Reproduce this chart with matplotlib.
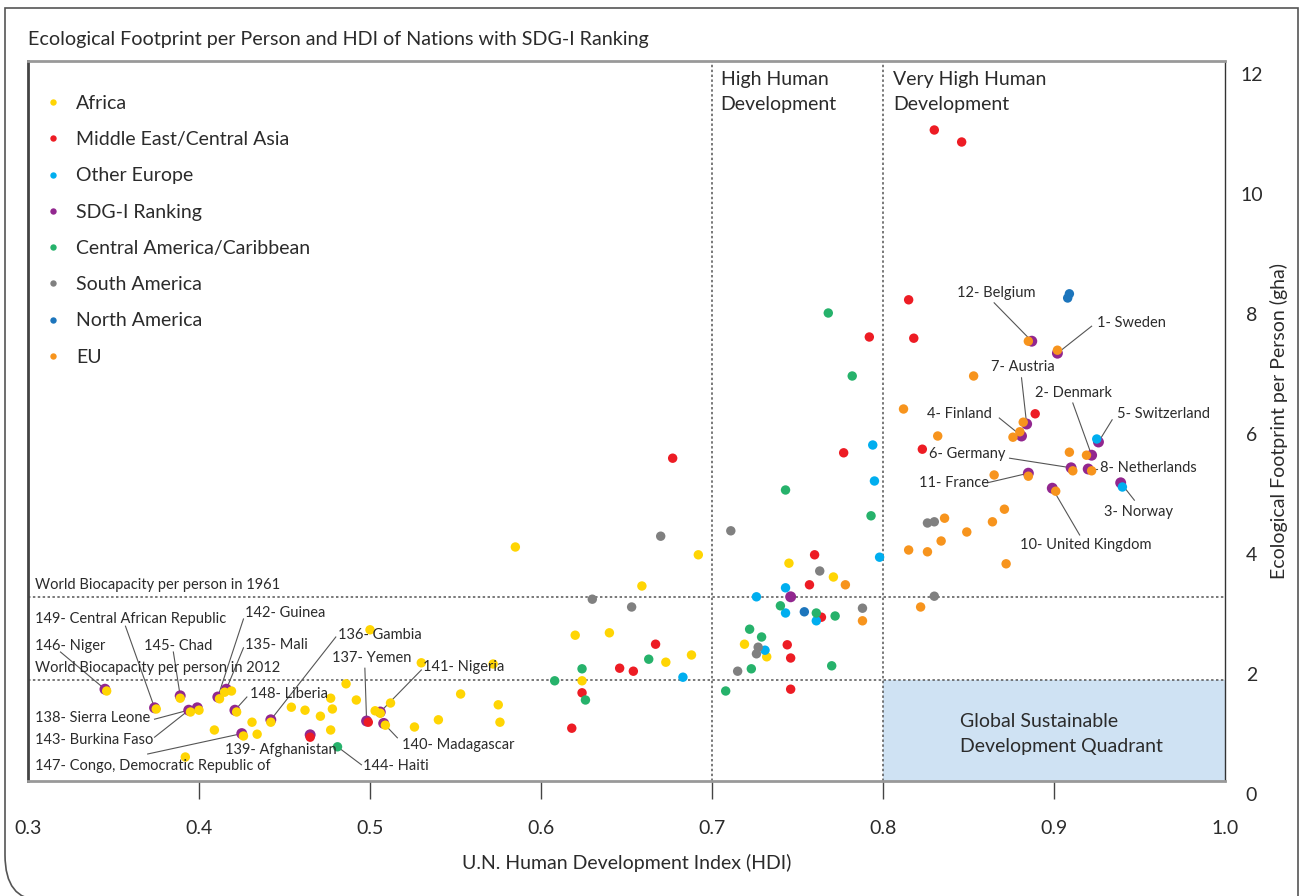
import matplotlib
matplotlib.use('Agg')
import matplotlib.pyplot as plt
from matplotlib.lines import Line2D
from matplotlib.patches import Rectangle, PathPatch
from matplotlib.path import Path
import matplotlib.transforms as mtransforms

plt.rcParams['font.family'] = ['Lato', 'DejaVu Sans']
TXT = '#2b2b2b'

# ---------------- data (HDI, Ecological Footprint gha/person) ----------------
regions = ['Africa', 'Middle East/Central Asia', 'Other Europe', 'SDG-I Ranking',
           'Central America/Caribbean', 'South America', 'North America', 'EU']
region_colors = ['#FFD503', '#ED1C24', '#00AEEF', '#92278F',
                 '#26B26B', '#808080', '#1C75BC', '#F7941D']

africa_hdi = [0.419, 0.431, 0.434, 0.409, 0.392, 0.454, 0.462, 0.471, 0.477, 0.477,
              0.478, 0.486, 0.492, 0.500, 0.503, 0.512, 0.526, 0.530, 0.540, 0.553,
              0.572, 0.575, 0.576, 0.585, 0.620, 0.624, 0.640, 0.659, 0.673, 0.688,
              0.692, 0.719, 0.732, 0.745, 0.771,
              0.346, 0.375, 0.389, 0.395, 0.400, 0.412, 0.415, 0.422, 0.426, 0.442,
              0.506, 0.509]
africa_ef = [1.50, 0.98, 0.78, 0.85, 0.40, 1.23, 1.18, 1.08, 0.85, 1.38,
             1.20, 1.62, 1.35, 2.52, 1.17, 1.30, 0.90, 1.97, 1.02, 1.45,
             1.95, 1.27, 0.98, 3.90, 2.43, 1.67, 2.47, 3.25, 1.98, 2.10,
             3.77, 2.28, 2.07, 3.63, 3.40,
             1.50, 1.20, 1.38, 1.15, 1.18, 1.37, 1.48, 1.15, 0.75, 0.98,
             1.13, 0.93]

mideast_hdi = [0.830, 0.846, 0.815, 0.818, 0.792, 0.889, 0.823, 0.777, 0.677, 0.760,
               0.757, 0.764, 0.744, 0.746, 0.746, 0.667, 0.646, 0.654, 0.624, 0.618,
               0.465, 0.499]
mideast_ef = [10.85, 10.65, 8.02, 7.38, 7.40, 6.12, 5.53, 5.47, 5.38, 3.77,
              3.27, 2.73, 2.27, 2.05, 1.53, 2.28, 1.88, 1.83, 1.47, 0.88,
              0.73, 0.98]

other_europe_hdi = [0.794, 0.795, 0.798, 0.743, 0.726, 0.743, 0.761, 0.731, 0.683,
                    0.925, 0.940]
other_europe_ef = [5.60, 5.00, 3.73, 3.22, 3.07, 2.80, 2.67, 2.18, 1.73,
                   5.70, 4.90]

central_am_hdi = [0.768, 0.782, 0.743, 0.793, 0.740, 0.761, 0.772, 0.722, 0.729, 0.723,
                  0.770, 0.708, 0.663, 0.624, 0.608, 0.626, 0.481]
central_am_ef = [7.80, 6.75, 4.85, 4.42, 2.92, 2.80, 2.75, 2.53, 2.40, 1.87,
                 1.92, 1.50, 2.03, 1.87, 1.67, 1.35, 0.57]

south_am_hdi = [0.630, 0.653, 0.670, 0.711, 0.763, 0.788, 0.727, 0.726, 0.715, 0.826,
                0.830, 0.830]
south_am_ef = [3.03, 2.90, 4.08, 4.17, 3.50, 2.88, 2.23, 2.12, 1.83, 4.30,
               4.32, 3.08]

north_am_hdi = [0.908, 0.909, 0.754]
north_am_ef = [8.05, 8.12, 2.82]

eu_hdi = [0.778, 0.788, 0.853, 0.812, 0.876, 0.832, 0.909, 0.865, 0.871, 0.836,
          0.864, 0.849, 0.834, 0.815, 0.826, 0.872, 0.822,
          0.902, 0.885, 0.882, 0.880, 0.919, 0.911, 0.922, 0.885, 0.901]
eu_ef = [3.27, 2.67, 6.75, 6.20, 5.73, 5.75, 5.48, 5.10, 4.53, 4.38,
         4.32, 4.15, 4.00, 3.85, 3.82, 3.62, 2.90,
         7.18, 7.33, 5.98, 5.82, 5.43, 5.17, 5.17, 5.08, 4.83]

# SDG-I ranked countries (purple markers)
sdg_names = ['146- Niger', '149- Central African Republic', '145- Chad', '143- Burkina Faso',
             '138- Sierra Leone', '142- Guinea', '135- Mali', '148- Liberia',
             '147- Congo, Democratic Republic of', '136- Gambia', '139- Afghanistan',
             '137- Yemen', '141- Nigeria', '140- Madagascar',
             '1- Sweden', '2- Denmark', '3- Norway', '4- Finland', '5- Switzerland',
             '6- Germany', '7- Austria', '8- Netherlands', '10- United Kingdom',
             '11- France', '12- Belgium', '']
sdg_hdi = [0.345, 0.374, 0.389, 0.394, 0.399, 0.411, 0.416, 0.421, 0.425, 0.442,
           0.465, 0.498, 0.506, 0.508,
           0.902, 0.922, 0.939, 0.881, 0.926, 0.910, 0.884, 0.920, 0.899, 0.885,
           0.887, 0.746]
sdg_ef = [1.53, 1.22, 1.42, 1.18, 1.22, 1.40, 1.53, 1.18, 0.79, 1.02,
          0.77, 1.00, 1.15, 0.96,
          7.13, 5.43, 4.97, 5.75, 5.65, 5.22, 5.95, 5.20, 4.88, 5.13,
          7.33, 3.07]

haiti_name = '144- Haiti'
haiti_hdi, haiti_ef = 0.481, 0.57

biocap_1961 = 3.07
biocap_2012 = 1.68
hdi_high = 0.7
hdi_very_high = 0.8

x_ticks = [0.3, 0.4, 0.5, 0.6, 0.7, 0.8, 0.9, 1.0]
x_tick_labels = ['0.3', '0.4', '0.5', '0.6', '0.7', '0.8', '0.9', '1.0']
y_ticks = [0, 2, 4, 6, 8, 10, 12]
y_tick_labels = ['0', '2', '4', '6', '8', '10', '12']

# ---------------- layout of annotation labels: text pos, line start ----------------
label_layout = {
    '149- Central African Republic': (0.304, 2.70, 0.357, 2.58),
    '146- Niger': (0.304, 2.25, 0.319, 2.15),
    '145- Chad': (0.368, 2.25, 0.385, 2.15),
    '142- Guinea': (0.427, 2.80, 0.426, 2.70),
    '135- Mali': (0.427, 2.27, 0.426, 2.22),
    '148- Liberia': (0.430, 1.45, 0.428, 1.40),
    '138- Sierra Leone': (0.304, 1.05, 0.374, 1.03),
    '143- Burkina Faso': (0.304, 0.68, 0.374, 0.73),
    '147- Congo, Democratic Republic of': (0.304, 0.25, 0.370, 0.45),
    '139- Afghanistan': (0.415, 0.52, None, None),
    '136- Gambia': (0.481, 2.43, 0.480, 2.40),
    '137- Yemen': (0.478, 2.05, 0.497, 1.88),
    '141- Nigeria': (0.531, 1.90, 0.530, 1.85),
    '140- Madagascar': (0.519, 0.60, 0.516, 0.72),
    '144- Haiti': (0.496, 0.25, 0.495, 0.27),
    '12- Belgium': (0.843, 8.13, 0.865, 7.97),
    '1- Sweden': (0.925, 7.63, 0.922, 7.58),
    '7- Austria': (0.863, 6.90, 0.881, 6.72),
    '2- Denmark': (0.889, 6.47, 0.911, 6.30),
    '4- Finland': (0.826, 6.12, 0.868, 6.05),
    '5- Switzerland': (0.937, 6.12, 0.934, 6.02),
    '6- Germany': (0.827, 5.45, 0.874, 5.38),
    '8- Netherlands': (0.927, 5.22, 0.925, 5.20),
    '11- France': (0.821, 4.97, 0.861, 4.97),
    '3- Norway': (0.929, 4.48, 0.947, 4.68),
    '10- United Kingdom': (0.880, 3.93, 0.915, 4.10),
}

# ---------------- figure ----------------
W, H = 1304, 896
fig = plt.figure(figsize=(W / 100, H / 100), dpi=100)
fig.patch.set_facecolor('white')

# outer frame with rounded bottom-left corner
fx = lambda px: px / W
fy = lambda py: (H - py) / H
verts = [(fx(40), fy(900)), (fx(5), fy(900)), (fx(5), fy(855)),
         (fx(5), fy(8)), (fx(1298), fy(8)), (fx(1298), fy(900))]
codes = [Path.MOVETO, Path.CURVE3, Path.CURVE3, Path.LINETO, Path.LINETO, Path.LINETO]
fig.add_artist(PathPatch(Path(verts, codes), transform=fig.transFigure,
                         facecolor='none', edgecolor='#555555', lw=1.2))

fig.text(fx(28), fy(40), 'Ecological Footprint per Person and HDI of Nations with SDG-I Ranking',
         fontsize=14.2, color=TXT, ha='left', va='center')

ax = fig.add_axes([28 / W, (H - 781) / H, (1225 - 28) / W, 720 / H])
ax.set_xlim(0.3, 1.0)
ax.set_ylim(0, 12)

for side, c, lw in [('left', '#444444', 2.0), ('top', '#999999', 2.0),
                    ('bottom', '#999999', 2.0), ('right', '#333333', 1.0)]:
    ax.spines[side].set_color(c)
    ax.spines[side].set_linewidth(lw)

# quadrant shading
ax.add_patch(Rectangle((hdi_very_high, 0), 1.0 - hdi_very_high, biocap_2012,
                       facecolor='#CFE2F3', edgecolor='none', zorder=0))
ax.text(0.845, 0.78, 'Global Sustainable\nDevelopment Quadrant', fontsize=14,
        color=TXT, ha='left', va='center', linespacing=1.6, zorder=1)

dot = dict(linestyle=(0, (1.6, 1.6)), color='#555555', lw=1.1, zorder=1)
ax.axvline(hdi_high, **dot)
ax.axvline(hdi_very_high, **dot)
ax.axhline(biocap_1961, **dot)
ax.axhline(biocap_2012, **dot)

ax.text(0.304, biocap_1961 + 0.2, 'World Biocapacity per person in 1961', fontsize=10.5,
        color=TXT, ha='left', va='center')
ax.text(0.304, biocap_2012 + 0.2, 'World Biocapacity per person in 2012', fontsize=10.5,
        color=TXT, ha='left', va='center')
ax.text(0.705, 11.84, 'High Human\nDevelopment', fontsize=14, color=TXT,
        ha='left', va='top', linespacing=1.6)
ax.text(0.806, 11.84, 'Very High Human\nDevelopment', fontsize=14, color=TXT,
        ha='left', va='top', linespacing=1.6)

# SDG purple markers (behind)
ax.scatter(sdg_hdi, sdg_ef, s=62, color=region_colors[3], edgecolors='none', zorder=3)

series = [(africa_hdi, africa_ef, 0), (mideast_hdi, mideast_ef, 1),
          (other_europe_hdi, other_europe_ef, 2), (central_am_hdi, central_am_ef, 4),
          (south_am_hdi, south_am_ef, 5), (north_am_hdi, north_am_ef, 6),
          (eu_hdi, eu_ef, 7)]
for xs, ys, ci in series:
    ax.scatter(xs, ys, s=46, color=region_colors[ci], edgecolors='none', zorder=4)

# annotations
targets = {n: (x, y) for n, x, y in zip(sdg_names, sdg_hdi, sdg_ef) if n}
targets[haiti_name] = (haiti_hdi, haiti_ef)
for name, (tx, ty, lx, ly) in label_layout.items():
    ax.text(tx, ty, name, fontsize=10.5, color=TXT, ha='left', va='center', zorder=5)
    if lx is not None:
        px, py = targets[name]
        ax.plot([lx, px], [ly, py], color='#555555', lw=0.8, zorder=2)

# ticks
ax.set_xticks(x_ticks, x_tick_labels)
ax.tick_params(axis='x', direction='out', length=13, width=1, color='#444444',
               pad=15, labelsize=14, labelcolor=TXT)
for t in (ax.xaxis.get_major_ticks()[0], ax.xaxis.get_major_ticks()[-1]):
    t.tick1line.set_visible(False)
ax.set_yticks(y_ticks, y_tick_labels)
ax.yaxis.tick_right()
ax.tick_params(axis='y', length=0, pad=19, labelsize=14, labelcolor=TXT)
shift = mtransforms.ScaledTranslation(0, -13 / 100, fig.dpi_scale_trans)
for lab in ax.get_yticklabels():
    lab.set_horizontalalignment('center')
    lab.set_transform(lab.get_transform() + shift)

ax.set_xlabel('U.N. Human Development Index (HDI)', fontsize=14, color=TXT, labelpad=12)
ax.yaxis.set_label_position('right')
ax.set_ylabel('Ecological Footprint per Person (gha)', fontsize=14, color=TXT, labelpad=5)

# legend
handles = [Line2D([], [], marker='o', linestyle='', markersize=4.6,
                  markerfacecolor=c, markeredgecolor='none') for c in region_colors]
leg = ax.legend(handles, regions, loc='upper left', bbox_to_anchor=(0.0128, 0.953),
                frameon=False, fontsize=14, borderpad=0, borderaxespad=0,
                handlelength=1.0, handletextpad=0.69, labelspacing=0.99)
for t in leg.get_texts():
    t.set_color(TXT)

fig.savefig('out.png', dpi=100)
